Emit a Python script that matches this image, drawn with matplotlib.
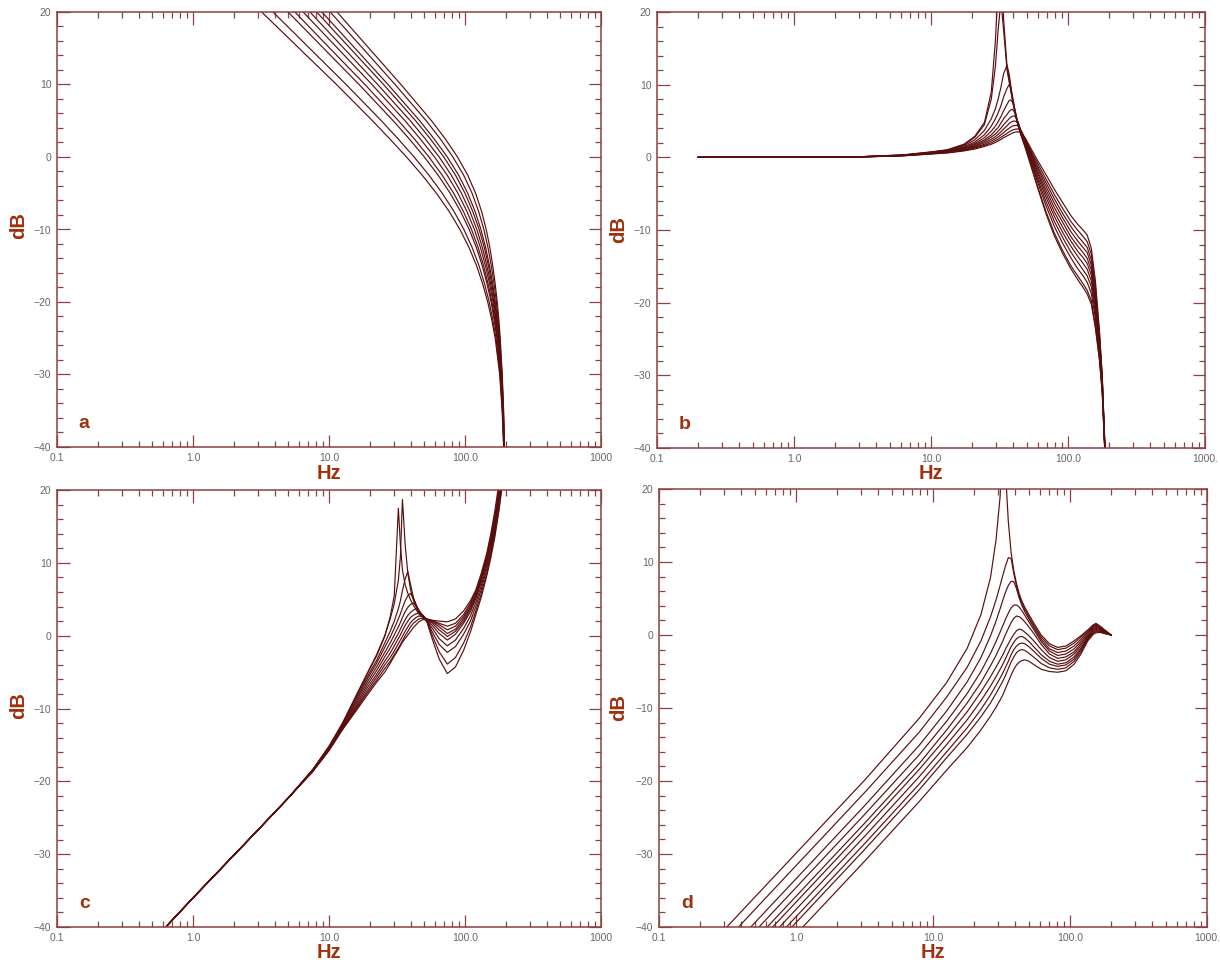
import logging
logging.getLogger('matplotlib.font_manager').setLevel(logging.ERROR)
import numpy as np
import matplotlib
matplotlib.use('Agg')
import matplotlib.pyplot as plt
from matplotlib.ticker import FixedLocator, FixedFormatter, NullFormatter

# ---------------- data ----------------
# Panel a: frequency (log10 Hz) at which each of the 10 curves crosses each dB level
a_db_levels = [20, 15, 10, 5, 2.5, 0, -2.5, -5, -7.5, -10, -12.5, -15, -17.5, -20, -22.5, -25, -30, -35, -40]
a_log10_hz_by_level = [
    [0.505, 0.588, 0.699, 0.749, 0.810, 0.860, 0.909, 0.948, 1.009, 1.059],
    [0.780, 0.857, 0.960, 1.006, 1.063, 1.109, 1.155, 1.191, 1.248, 1.294],
    [1.055, 1.126, 1.221, 1.264, 1.316, 1.358, 1.401, 1.434, 1.486, 1.529],
    [1.320, 1.385, 1.472, 1.511, 1.559, 1.598, 1.637, 1.667, 1.715, 1.754],
    [1.447, 1.508, 1.590, 1.627, 1.671, 1.708, 1.745, 1.773, 1.818, 1.855],
    [1.570, 1.626, 1.701, 1.735, 1.776, 1.810, 1.844, 1.870, 1.911, 1.945],
    [1.685, 1.735, 1.802, 1.832, 1.869, 1.899, 1.930, 1.953, 1.990, 2.020],
    [1.790, 1.833, 1.891, 1.917, 1.948, 1.974, 2.000, 2.020, 2.052, 2.078],
    [1.883, 1.919, 1.967, 1.988, 2.014, 2.036, 2.057, 2.074, 2.100, 2.122],
    [1.963, 1.992, 2.031, 2.048, 2.069, 2.087, 2.104, 2.117, 2.139, 2.156],
    [2.030, 2.053, 2.084, 2.097, 2.114, 2.128, 2.142, 2.152, 2.169, 2.183],
    [2.085, 2.103, 2.127, 2.137, 2.150, 2.161, 2.172, 2.180, 2.193, 2.204],
    [2.130, 2.144, 2.162, 2.170, 2.181, 2.189, 2.197, 2.204, 2.214, 2.222],
    [2.167, 2.178, 2.192, 2.198, 2.206, 2.212, 2.218, 2.223, 2.231, 2.237],
    [2.197, 2.205, 2.215, 2.220, 2.226, 2.230, 2.235, 2.239, 2.244, 2.249],
    [2.222, 2.228, 2.235, 2.238, 2.242, 2.246, 2.249, 2.252, 2.256, 2.259],
    [2.255, 2.258, 2.262, 2.263, 2.265, 2.267, 2.269, 2.270, 2.272, 2.274],
    [2.273, 2.275, 2.277, 2.278, 2.279, 2.280, 2.281, 2.282, 2.283, 2.284],
    [2.284, 2.285, 2.286, 2.287, 2.287, 2.288, 2.288, 2.289, 2.289, 2.290],
]

# Panel b
b_log10_hz = [-0.70, 0.0, 0.5, 0.8, 1.0, 1.12, 1.24, 1.32, 1.39, 1.44, 1.47, 1.49, 1.51,
              1.53, 1.555, 1.57, 1.58, 1.595, 1.61, 1.625, 1.64, 1.66, 1.69, 1.73, 1.78,
              1.84, 1.90, 1.96, 2.02, 2.07, 2.11, 2.14, 2.17, 2.20, 2.23, 2.25, 2.27, 2.28]
b_db = [
    [0, 0, 0.10, 0.35, 0.75, 1.05, 1.8, 2.9, 4.8, 9.0, 16.0, 23.5, 28.0, 19.0, 12.5, 10.8, 9.7, 7.9, 6.5, 5.2, 4.1, 2.9,
     1.2, -1.2, -4.3, -7.8, -10.8, -13.2, -15.3, -16.8, -17.9, -18.8, -20.2, -23.5, -28.0, -32.5, -41.0, -47],
    [0, 0, 0.10, 0.33, 0.72, 1.00, 1.7, 2.75, 4.5, 8.0, 12.5, 17.5, 21.5, 17.5, 12.0, 10.4, 9.4, 7.8, 6.4, 5.1, 4.1, 2.9,
     1.3, -1.1, -4.1, -7.5, -10.4, -12.8, -14.9, -16.3, -17.4, -18.3, -19.7, -23.1, -27.8, -32.4, -41.0, -47],
    [0, 0, 0.09, 0.30, 0.68, 0.92, 1.6, 2.4, 3.7, 5.3, 6.7, 8.0, 9.6, 11.5, 12.7, 11.5, 10.2, 8.3, 6.7, 5.3, 4.2, 3.0,
     1.5, -0.7, -3.5, -6.7, -9.5, -11.8, -13.8, -15.3, -16.3, -17.2, -18.7, -22.2, -27.2, -32.0, -40.8, -47],
    [0, 0, 0.09, 0.29, 0.65, 0.87, 1.45, 2.1, 3.1, 4.3, 5.3, 6.1, 7.1, 8.3, 9.5, 10.0, 9.7, 8.3, 6.8, 5.4, 4.3, 3.1,
     1.6, -0.5, -3.1, -6.1, -8.8, -11.0, -13.0, -14.4, -15.5, -16.3, -17.8, -21.5, -26.8, -31.7, -40.7, -47],
    [0, 0, 0.08, 0.28, 0.62, 0.83, 1.35, 1.9, 2.7, 3.6, 4.3, 4.9, 5.6, 6.4, 7.3, 7.8, 7.9, 7.6, 6.7, 5.5, 4.4, 3.2,
     1.8, -0.2, -2.7, -5.5, -8.1, -10.3, -12.2, -13.6, -14.6, -15.4, -17.0, -20.8, -26.3, -31.5, -40.6, -47],
    [0, 0, 0.08, 0.27, 0.60, 0.79, 1.25, 1.75, 2.4, 3.1, 3.7, 4.1, 4.7, 5.3, 5.9, 6.3, 6.5, 6.6, 6.2, 5.4, 4.5, 3.3,
     1.9, 0.0, -2.3, -5.0, -7.5, -9.6, -11.5, -12.9, -13.8, -14.6, -16.2, -20.1, -25.9, -31.2, -40.5, -47],
    [0, 0, 0.07, 0.26, 0.57, 0.76, 1.17, 1.6, 2.2, 2.8, 3.2, 3.6, 4.0, 4.5, 5.0, 5.3, 5.5, 5.65, 5.7, 5.3, 4.6, 3.4,
     2.1, 0.3, -2.0, -4.5, -6.9, -8.9, -10.9, -12.2, -13.1, -13.9, -15.5, -19.5, -25.6, -31.0, -40.4, -47],
    [0, 0, 0.07, 0.25, 0.54, 0.72, 1.1, 1.5, 2.0, 2.5, 2.85, 3.15, 3.5, 3.9, 4.35, 4.65, 4.8, 4.95, 5.0, 4.9, 4.5, 3.5,
     2.2, 0.5, -1.6, -4.0, -6.3, -8.3, -10.2, -11.5, -12.4, -13.1, -14.8, -19.0, -25.2, -30.8, -40.3, -47],
    [0, 0, 0.06, 0.24, 0.51, 0.68, 1.02, 1.38, 1.8, 2.25, 2.55, 2.8, 3.1, 3.4, 3.8, 4.0, 4.15, 4.3, 4.38, 4.4, 4.3, 3.6,
     2.3, 0.7, -1.3, -3.5, -5.7, -7.7, -9.5, -10.8, -11.7, -12.4, -14.1, -18.4, -24.8, -30.5, -40.2, -47],
    [0, 0, 0.06, 0.22, 0.48, 0.65, 0.95, 1.27, 1.65, 2.0, 2.3, 2.5, 2.75, 3.0, 3.3, 3.5, 3.6, 3.75, 3.85, 3.9, 3.9, 3.6,
     2.5, 0.9, -0.9, -3.0, -5.1, -7.0, -8.8, -10.0, -10.9, -11.6, -13.3, -17.7, -24.4, -30.3, -40.1, -47],
    [0, 0, 0.05, 0.21, 0.45, 0.60, 0.88, 1.15, 1.5, 1.8, 2.05, 2.25, 2.45, 2.7, 2.95, 3.1, 3.2, 3.35, 3.45, 3.5, 3.5, 3.3,
     2.6, 1.2, -0.5, -2.4, -4.4, -6.2, -8.0, -9.2, -10.0, -10.7, -12.5, -17.0, -24.0, -30.0, -40.0, -47],
]

# Panel c
c_log10_hz = [-0.20, 0.0, 0.4, 0.7, 0.88, 1.0, 1.1, 1.2, 1.28, 1.35, 1.41, 1.45, 1.48, 1.51, 1.525,
              1.54, 1.56, 1.58, 1.60, 1.62, 1.64, 1.66, 1.69, 1.72, 1.76, 1.81, 1.87, 1.93, 1.99,
              2.04, 2.08, 2.12, 2.16, 2.19, 2.22, 2.25, 2.28]
c_db = [
    [-40, -36, -28.2, -22.3, -18.4, -15.2, -12.0, -8.2, -5.2, -2.6, 0.0, 2.3, 4.4, 7.6, 10.8, 18.7, 12.5, 8.5,
     6.3, 4.9, 4.0, 3.3, 2.6, 1.9, -0.5, -3.2, -5.2, -4.3, -2.0, 0.5, 2.9, 5.3, 8.2, 10.7, 13.6, 17.2, 21.5],
    [-40, -36, -28.2, -22.3, -18.4, -15.2, -12.0, -8.3, -5.3, -2.8, -0.1, 2.6, 5.5, 17.5, 12.5, 9.0, 7.0, 5.8,
     4.9, 4.2, 3.6, 3.0, 2.5, 2.0, 0.0, -2.2, -3.9, -3.0, -1.0, 1.2, 3.4, 5.8, 8.6, 11.1, 14.0, 17.6, 21.8],
    [-40, -36, -28.2, -22.3, -18.4, -15.3, -12.1, -8.5, -5.7, -3.4, -1.0, 0.6, 2.0, 3.7, 4.8, 6.2, 7.8, 8.8,
     7.0, 5.3, 4.2, 3.4, 2.6, 2.0, 0.5, -1.2, -2.3, -1.5, 0.2, 2.0, 4.0, 6.4, 9.1, 11.5, 14.4, 18.0, 22.0],
    [-40, -36, -28.2, -22.3, -18.5, -15.4, -12.3, -8.8, -6.0, -3.8, -1.6, -0.2, 1.0, 2.3, 3.0, 3.8, 4.8, 5.5,
     5.8, 5.1, 4.3, 3.5, 2.7, 2.0, 1.0, -0.4, -1.4, -0.6, 1.0, 2.7, 4.6, 6.9, 9.6, 11.9, 14.8, 18.4, 22.4],
    [-40, -36, -28.2, -22.3, -18.5, -15.5, -12.4, -9.1, -6.4, -4.3, -2.3, -1.0, 0.1, 1.2, 1.8, 2.5, 3.3, 3.9,
     4.3, 4.5, 4.1, 3.5, 2.7, 2.1, 1.4, 0.3, -0.6, 0.2, 1.7, 3.3, 5.1, 7.4, 10.0, 12.4, 15.2, 18.8, 22.8],
    [-40, -36, -28.2, -22.3, -18.5, -15.5, -12.5, -9.4, -6.8, -4.8, -2.9, -1.7, -0.7, 0.3, 0.9, 1.5, 2.2, 2.8,
     3.2, 3.5, 3.7, 3.4, 2.8, 2.2, 1.7, 0.8, -0.1, 0.6, 2.0, 3.6, 5.4, 7.7, 10.3, 12.8, 15.6, 19.2, 23.2],
    [-40, -36, -28.2, -22.3, -18.6, -15.6, -12.6, -9.7, -7.2, -5.3, -3.5, -2.4, -1.4, -0.4, 0.1, 0.7, 1.4, 2.0,
     2.5, 2.8, 3.0, 3.1, 2.8, 2.2, 1.9, 1.2, 0.3, 0.9, 2.3, 3.9, 5.6, 7.9, 10.5, 13.1, 15.9, 19.5, 23.5],
    [-40, -36, -28.2, -22.3, -18.6, -15.7, -12.7, -9.9, -7.6, -5.7, -4.0, -3.0, -2.1, -1.1, -0.6, -0.1, 0.6, 1.2,
     1.8, 2.2, 2.5, 2.7, 2.6, 2.3, 2.0, 1.5, 0.8, 1.3, 2.6, 4.2, 5.9, 8.1, 10.8, 13.4, 16.2, 19.8, 23.8],
    [-40, -36, -28.2, -22.3, -18.6, -15.7, -12.8, -10.1, -7.9, -6.1, -4.5, -3.5, -2.6, -1.7, -1.2, -0.7, 0.0, 0.6,
     1.2, 1.7, 2.0, 2.3, 2.4, 2.3, 2.1, 1.7, 1.3, 1.7, 2.9, 4.5, 6.1, 8.3, 11.0, 13.6, 16.6, 20.3, 24.2],
    [-40, -36, -28.2, -22.3, -18.7, -15.8, -12.9, -10.3, -8.2, -6.4, -5.0, -3.8, -2.8, -1.9, -1.4, -0.9, -0.4, 0.1,
     0.6, 1.1, 1.5, 1.9, 2.2, 2.2, 2.1, 2.0, 1.9, 2.3, 3.4, 4.8, 6.3, 8.6, 11.3, 14.0, 17.2, 21.0, 25.0],
]

# Panel d
d_log10_hz = [-0.55, 0.0, 0.5, 0.9, 1.1, 1.25, 1.35, 1.42, 1.46, 1.49, 1.51, 1.53, 1.55, 1.57, 1.59, 1.61,
              1.63, 1.65, 1.67, 1.70, 1.74, 1.79, 1.85, 1.91, 1.97, 2.03, 2.08, 2.13, 2.17, 2.19, 2.22, 2.26, 2.30]
d_db = [
    [-40.9, -29.9, -19.9, -11.4, -6.5, -1.8, 2.8, 7.9, 13.0, 19.0, 30.0, 22.0, 15.5, 11.3, 8.8, 7.0, 5.6,
     4.6, 3.8, 2.8, 1.5, 0.0, -1.2, -1.7, -1.5, -0.8, -0.1, 0.7, 1.4, 1.6, 1.2, 0.6, 0.0],
    [-42.6, -31.6, -21.6, -13.3, -8.5, -4.4, -0.8, 2.5, 4.8, 6.8, 8.2, 9.5, 10.6, 10.5, 8.4, 6.7, 5.3,
     4.3, 3.5, 2.5, 1.2, -0.3, -1.5, -2.0, -1.8, -1.1, -0.3, 0.6, 1.3, 1.5, 1.15, 0.55, 0.0],
    [-44.4, -33.4, -23.4, -15.1, -10.4, -6.4, -3.1, -0.1, 1.9, 3.6, 4.8, 5.9, 6.8, 7.35, 7.3, 6.3, 5.0,
     4.0, 3.2, 2.2, 0.9, -0.6, -1.9, -2.4, -2.2, -1.5, -0.6, 0.4, 1.15, 1.35, 1.05, 0.5, 0.0],
    [-45.6, -34.6, -24.6, -16.4, -11.8, -8.0, -5.0, -2.5, -0.9, 0.4, 1.3, 2.2, 3.0, 3.7, 4.1, 4.1, 3.8,
     3.3, 2.7, 1.8, 0.6, -0.9, -2.2, -2.8, -2.6, -1.9, -0.9, 0.2, 1.0, 1.2, 0.95, 0.45, 0.0],
    [-46.8, -35.8, -25.8, -17.6, -13.0, -9.3, -6.5, -4.2, -2.8, -1.6, -0.8, 0.1, 0.9, 1.7, 2.3, 2.6, 2.5,
     2.2, 1.8, 1.1, 0.1, -1.3, -2.6, -3.2, -3.0, -2.3, -1.2, 0.0, 0.85, 1.05, 0.85, 0.4, 0.0],
    [-47.6, -36.6, -26.6, -18.4, -14.0, -10.5, -7.8, -5.7, -4.4, -3.4, -2.7, -1.9, -1.2, -0.5, 0.1, 0.6, 0.8,
     0.7, 0.4, -0.1, -0.9, -2.0, -3.1, -3.6, -3.4, -2.6, -1.5, -0.2, 0.7, 0.9, 0.75, 0.35, 0.0],
    [-48.6, -37.6, -27.6, -19.4, -15.0, -11.6, -9.0, -7.0, -5.7, -4.7, -4.0, -3.2, -2.4, -1.6, -1.0, -0.5, -0.25,
     -0.2, -0.4, -0.9, -1.7, -2.7, -3.6, -4.0, -3.8, -3.0, -1.8, -0.35, 0.55, 0.75, 0.65, 0.3, 0.0],
    [-49.6, -38.6, -28.6, -20.4, -16.0, -12.7, -10.2, -8.2, -6.9, -5.9, -5.2, -4.4, -3.6, -2.7, -2.0, -1.5, -1.2,
     -1.1, -1.2, -1.6, -2.3, -3.2, -4.0, -4.3, -4.1, -3.3, -2.0, -0.5, 0.4, 0.6, 0.55, 0.25, 0.0],
    [-50.4, -39.4, -29.4, -21.2, -16.8, -13.6, -11.2, -9.3, -8.0, -7.0, -6.3, -5.5, -4.6, -3.7, -3.0, -2.4, -2.1,
     -2.0, -2.1, -2.5, -3.1, -3.9, -4.5, -4.7, -4.5, -3.6, -2.3, -0.65, 0.25, 0.45, 0.45, 0.2, 0.0],
    [-52.0, -41.0, -31.0, -22.8, -18.5, -15.4, -13.0, -11.1, -9.9, -8.9, -8.2, -7.3, -6.4, -5.5, -4.7, -4.1, -3.7,
     -3.5, -3.4, -3.6, -4.1, -4.7, -5.0, -5.1, -4.9, -4.0, -2.6, -0.8, 0.1, 0.3, 0.35, 0.15, 0.0],
]

x_major = [0.1, 1.0, 10.0, 100.0, 1000.0]
x_labels_left = ['0.1', '1.0', '10.0', '100.0', '1000']
x_labels_right = ['0.1', '1.0', '10.0', '100.0', '1000.']
y_major = [-40, -30, -20, -10, 0, 10, 20]
y_labels = ['\u221240', '\u221230', '\u221220', '\u221210', '0', '10', '20']
panel_letters = ['a', 'b', 'c', 'd']

# ---------------- style ----------------
plt.rcParams['font.family'] = ['Liberation Sans', 'DejaVu Sans']
BOLD_FAM = ['Liberation Sans Narrow', 'Liberation Sans', 'DejaVu Sans']
LINE = '#5a0d0d'
SPINE = '#8c4040'
LABEL = '#a0300e'
TICKTXT = '#666666'

W, H = 1220, 963
fig = plt.figure(figsize=(W / 100, H / 100), dpi=100)


def px_axes(l, t, r, b):
    return fig.add_axes([l / W, 1 - b / H, (r - l) / W, (b - t) / H])


x_minor = [m * 10.0 ** e for e in range(-1, 3) for m in range(2, 10)]
y_minor = [v for v in range(-40, 21, 2) if v % 10 != 0]


def style(ax, xlabels, letter):
    ax.set_xscale('log')
    ax.set_xlim(0.1, 1000)
    ax.set_ylim(-40, 20)
    ax.xaxis.set_major_locator(FixedLocator(x_major))
    ax.xaxis.set_major_formatter(FixedFormatter(xlabels))
    ax.xaxis.set_minor_locator(FixedLocator(x_minor))
    ax.xaxis.set_minor_formatter(NullFormatter())
    ax.yaxis.set_major_locator(FixedLocator(y_major))
    ax.yaxis.set_major_formatter(FixedFormatter(y_labels))
    ax.yaxis.set_minor_locator(FixedLocator(y_minor))
    ax.tick_params(which='both', direction='in', top=True, right=True,
                   color=SPINE, labelcolor=TICKTXT, labelsize=7.5, width=0.9)
    ax.tick_params(which='major', length=9, pad=4)
    ax.tick_params(which='minor', length=4.5)
    for s in ax.spines.values():
        s.set_color(SPINE)
        s.set_linewidth(1.1)
    ax.text(0.04, 0.044, letter, transform=ax.transAxes, ha='left', va='baseline',
            fontsize=14, fontweight='bold', color=LABEL, family=BOLD_FAM)


axes_px = [(57, 12, 601, 447), (657, 12, 1205, 448), (57, 490, 601, 927), (659, 489, 1207, 927)]
axs = [px_axes(*p) for p in axes_px]

a_tab = np.array(a_log10_hz_by_level)
for k in range(a_tab.shape[1]):
    axs[0].plot(10 ** a_tab[:, k], a_db_levels, color=LINE, lw=0.85)
for ys in b_db:
    axs[1].plot(10 ** np.array(b_log10_hz), ys, color=LINE, lw=0.85)
for ys in c_db:
    axs[2].plot(10 ** np.array(c_log10_hz), ys, color=LINE, lw=0.85)
for ys in d_db:
    axs[3].plot(10 ** np.array(d_log10_hz), ys, color=LINE, lw=0.85)

for i, ax in enumerate(axs):
    style(ax, x_labels_left if i % 2 == 0 else x_labels_right, panel_letters[i])

# axis titles
hz_pos = [(329, 473), (931, 473), (329, 952), (933, 952)]
db_pos = [(19, 226), (619, 230), (19, 706), (619, 708)]
for (x, y) in hz_pos:
    fig.text(x / W, 1 - y / H, 'Hz', ha='center', va='center', fontsize=14.5,
             fontweight='bold', color=LABEL, family=BOLD_FAM)
for (x, y) in db_pos:
    fig.text(x / W, 1 - y / H, 'dB', ha='center', va='center', fontsize=14.5,
             fontweight='bold', color=LABEL, rotation=90, family=BOLD_FAM)

fig.savefig('out.png', dpi=100)
